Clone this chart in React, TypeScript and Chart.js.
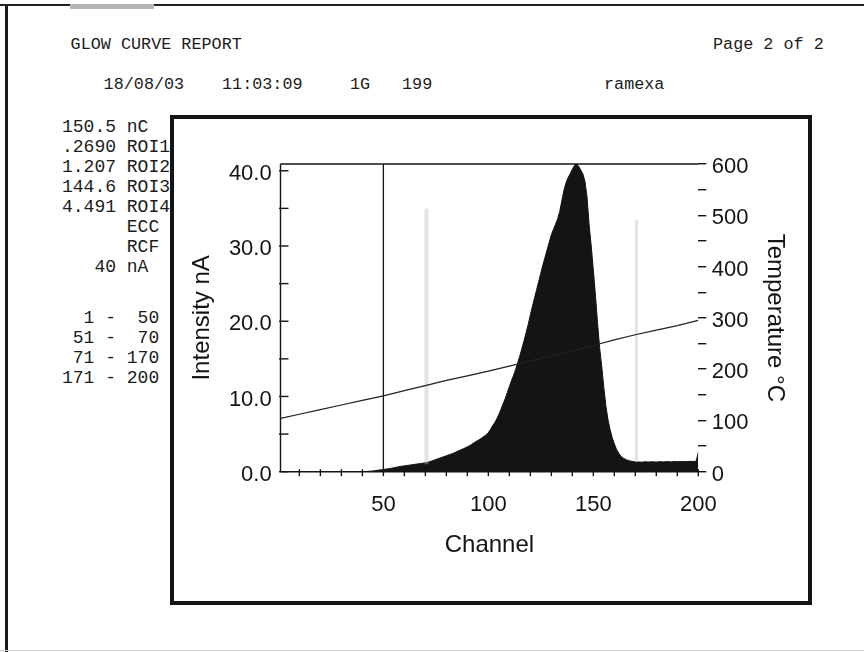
import React, { useEffect, useRef } from 'react';
import { Chart, registerables } from 'chart.js';

Chart.register(...registerables);

// ---------- data ----------
const channels: number[] = Array.from({ length: 200 }, (_, i) => i + 1);

const intensity: number[] = [
  // 1-40
  0, 0, 0, 0, 0, 0, 0, 0, 0, 0,
  0, 0, 0, 0, 0, 0, 0, 0, 0, 0,
  0, 0, 0, 0, 0, 0, 0, 0, 0, 0,
  0, 0, 0, 0, 0, 0, 0, 0, 0, 0,
  // 41-50
  0.02, 0.03, 0.05, 0.08, 0.1, 0.14, 0.18, 0.22, 0.26, 0.3,
  // 51-60
  0.34, 0.38, 0.42, 0.47, 0.52, 0.58, 0.64, 0.7, 0.74, 0.78,
  // 61-70
  0.82, 0.86, 0.9, 0.94, 0.98, 1.02, 1.06, 1.1, 1.14, 1.19,
  // 71-80
  1.25, 1.33, 1.42, 1.52, 1.62, 1.72, 1.82, 1.92, 2.02, 2.12,
  // 81-90
  2.22, 2.32, 2.42, 2.54, 2.68, 2.8, 2.92, 3.04, 3.17, 3.31,
  // 91-100
  3.46, 3.63, 3.82, 4.0, 4.16, 4.32, 4.5, 4.7, 4.92, 5.2,
  // 101-110
  5.6, 6.1, 6.5, 7.0, 7.6, 8.3, 9.0, 9.7, 10.5, 11.3,
  // 111-120
  12.1, 12.8, 13.6, 14.5, 15.4, 16.4, 17.4, 18.5, 19.6, 20.8,
  // 121-130
  22.0, 23.1, 24.2, 25.3, 26.4, 27.5, 28.5, 29.5, 30.5, 31.5,
  // 131-140
  32.2, 32.9, 33.6, 34.6, 36.0, 37.4, 38.4, 39.1, 39.6, 40.2,
  // 141-150
  40.7, 40.9, 40.6, 40.1, 39.6, 38.6, 36.5, 32.8, 30.0, 26.8,
  // 151-160
  23.5, 19.8, 16.5, 14.0, 11.2, 8.7, 6.9, 5.6, 4.5, 3.7,
  // 161-170
  3.0, 2.5, 2.1, 1.85, 1.7, 1.55, 1.45, 1.4, 1.35, 1.3,
  // 171-180
  1.28, 1.3, 1.27, 1.3, 1.32, 1.29, 1.3, 1.33, 1.3, 1.28,
  // 181-190
  1.31, 1.34, 1.3, 1.32, 1.35, 1.33, 1.3, 1.34, 1.36, 1.33,
  // 191-200
  1.35, 1.37, 1.34, 1.36, 1.35, 1.38, 1.36, 1.37, 1.4, 2.6,
];

const tempChannels: number[] = [1, 10, 20, 30, 40, 50, 60, 70, 80, 90, 100, 110, 120, 130, 140, 150, 160, 170, 180, 190, 200];
const temperature: number[] = [104, 112, 121, 130, 139, 148, 158, 168, 178, 187, 196, 206, 216, 226, 235, 246, 257, 267, 276, 285, 295];

const roiChannels: number[] = [50, 70.5, 170.5];
const roiLow: number[] = [0, 1.0, 1.3];
const roiHigh: number[] = [40.9, 35.0, 33.4];

const xTickValues: number[] = [10, 20, 30, 40, 50, 60, 70, 80, 90, 100, 110, 120, 130, 140, 150, 160, 170, 180, 190, 200];
const xLabelValues: number[] = [50, 100, 150, 200];
const yTickValues: number[] = [0, 5, 10, 15, 20, 25, 30, 35, 40];
const yLabelValues: number[] = [0, 10, 20, 30, 40];
const y1TickValues: number[] = [0, 50, 100, 150, 200, 250, 300, 350, 400, 450, 500, 550, 600];
const y1LabelValues: number[] = [0, 100, 200, 300, 400, 500, 600];

const headerTitle = 'GLOW CURVE REPORT';
const headerPage = 'Page 2 of 2';
const headerFields: string[] = ['18/08/03', '11:03:09', '1G', '199', 'ramexa'];
const sideLines: string[] = [
  '150.5 nC',
  '.2690 ROI1',
  '1.207 ROI2',
  '144.6 ROI3',
  '4.491 ROI4',
  '      ECC',
  '      RCF',
  '   40 nA',
  '  1 -  50',
  ' 51 -  70',
  ' 71 - 170',
  '171 - 200',
];

// ---------- layout (pixels) ----------
const W = 864;
const H = 652;
const PLOT_LEFT = 280.5;
const PLOT_RIGHT = 698.3;
const PLOT_TOP = 164;
const PLOT_BOTTOM = 471.7;
const headerFieldX = [103.6, 222, 350, 402, 604];
const sideLineY = [127, 147, 167, 187, 207, 227, 247, 267, 318, 338, 358, 378];

const INK = '#141414';
const SANS = '"Liberation Sans", Arial, sans-serif';
const MONO = '"Liberation Mono", "Courier New", monospace';

const axesPlugin = {
  id: 'glowAxes',
  afterDraw(chart: any) {
    const { ctx, chartArea: a, scales } = chart;
    ctx.save();
    ctx.strokeStyle = INK;
    ctx.lineWidth = 1.4;
    const seg = (x1: number, y1: number, x2: number, y2: number) => {
      ctx.beginPath();
      ctx.moveTo(x1, y1);
      ctx.lineTo(x2, y2);
      ctx.stroke();
    };
    seg(a.left, a.top, a.left, a.bottom);
    seg(a.left, a.top, a.right, a.top);
    seg(a.left, a.bottom, a.right, a.bottom);
    scales.x.ticks.forEach((t: any) => {
      const px = scales.x.getPixelForValue(t.value);
      seg(px, a.bottom - 2.5, px, a.bottom + 4.5);
    });
    scales.y.ticks.forEach((t: any) => {
      const py = scales.y.getPixelForValue(t.value);
      seg(a.left - 1.5, py, a.left + 8, py);
    });
    ctx.restore();
  },
};

function GlowChart() {
  const ref = useRef<HTMLCanvasElement | null>(null);
  useEffect(() => {
    if (!ref.current) return;
    const tickFont = { family: SANS, size: 22 };
    const titleFont = { family: SANS, size: 24 };
    const roiColors = [INK, 'rgba(185,185,185,0.4)', 'rgba(185,185,185,0.4)'];
    const roiWidths = [1.3, 4, 3];
    const roiSets = roiChannels.map((c, i) => ({
      type: 'line' as const,
      data: [
        { x: c, y: roiLow[i] },
        { x: c, y: roiHigh[i] },
      ],
      yAxisID: 'y',
      borderColor: roiColors[i],
      borderWidth: roiWidths[i],
      pointRadius: 0,
      fill: false,
      order: 2,
    }));
    const chart = new Chart(ref.current, {
      type: 'line',
      data: {
        datasets: [
          {
            data: tempChannels.map((c, i) => ({ x: c, y: temperature[i] })),
            yAxisID: 'y1',
            borderColor: '#222',
            borderWidth: 1.2,
            pointRadius: 0,
            fill: false,
            tension: 0,
            order: 1,
          },
          ...roiSets,
          {
            data: channels.map((c, i) => ({ x: c, y: intensity[i] })),
            yAxisID: 'y',
            borderColor: INK,
            backgroundColor: INK,
            borderWidth: 1,
            pointRadius: 0,
            fill: 'origin',
            tension: 0,
            order: 3,
          },
        ] as any,
      },
      options: {
        animation: false,
        responsive: false,
        maintainAspectRatio: false,
        devicePixelRatio: 1,
        events: [],
        layout: { padding: { top: PLOT_TOP, left: 0, right: 0, bottom: 0 } },
        plugins: { legend: { display: false }, tooltip: { enabled: false } },
        scales: {
          x: {
            type: 'linear',
            min: 1,
            max: 200,
            afterFit: (s: any) => {
              s.height = H - PLOT_BOTTOM;
            },
            afterBuildTicks: (s: any) => {
              s.ticks = xTickValues.map((v) => ({ value: v }));
            },
            grid: { display: false, drawTicks: false, tickLength: 0 },
            border: { display: false },
            ticks: {
              autoSkip: false,
              maxRotation: 0,
              padding: 20,
              color: INK,
              font: tickFont,
              callback: (v: any) => (xLabelValues.includes(Number(v)) ? String(v) : ''),
            },
            title: {
              display: true,
              text: 'Channel',
              color: INK,
              font: titleFont,
              padding: { top: 0, bottom: 92.6 },
            },
          },
          y: {
            type: 'linear',
            position: 'left',
            min: 0,
            max: 40.9,
            afterFit: (s: any) => {
              s.width = PLOT_LEFT;
            },
            afterBuildTicks: (s: any) => {
              s.ticks = yTickValues.map((v) => ({ value: v }));
            },
            grid: { display: false, drawTicks: false, tickLength: 0 },
            border: { display: false },
            ticks: {
              autoSkip: false,
              padding: 8.8,
              labelOffset: 3,
              color: INK,
              font: tickFont,
              callback: (v: any) => (yLabelValues.includes(Number(v)) ? Number(v).toFixed(1) : ''),
            },
            title: {
              display: true,
              text: 'Intensity nA',
              color: INK,
              font: titleFont,
              padding: { top: 187.6, bottom: 0 },
            },
          },
          y1: {
            type: 'linear',
            position: 'right',
            min: 0,
            max: 600,
            afterFit: (s: any) => {
              s.width = W - PLOT_RIGHT;
            },
            afterBuildTicks: (s: any) => {
              s.ticks = y1TickValues.map((v) => ({ value: v }));
            },
            grid: { drawOnChartArea: false, drawTicks: true, tickLength: 8, color: INK, lineWidth: 1.4 },
            border: { display: false },
            ticks: {
              autoSkip: false,
              padding: 5.4,
              labelOffset: 3,
              color: INK,
              font: tickFont,
              callback: (v: any) => (y1LabelValues.includes(Number(v)) ? String(v) : ''),
            },
            title: {
              display: true,
              text: 'Temperature °C',
              color: INK,
              font: titleFont,
              padding: { top: 75, bottom: 0 },
            },
          },
        },
      } as any,
      plugins: [axesPlugin],
    });
    return () => chart.destroy();
  }, []);
  return (
    <canvas
      ref={ref}
      width={W}
      height={H}
      style={{ position: 'absolute', left: 0, top: 0, width: W, height: H }}
    />
  );
}

const monoText = (text: string, x: number, cy: number, key: string, size = 16.8) => (
  <span
    key={key}
    style={{
      position: 'absolute',
      left: x,
      top: cy - 9,
      fontFamily: MONO,
      fontSize: size,
      lineHeight: '18px',
      whiteSpace: 'pre',
      color: '#1c1c1c',
    }}
  >
    {text}
  </span>
);

export default function App() {
  return (
    <div
      style={{
        position: 'absolute',
        left: 0,
        top: 0,
        width: W,
        height: H,
        overflow: 'hidden',
        background: '#ffffff',
      }}
    >
      {/* scanned page edges */}
      <div style={{ position: 'absolute', left: 0, top: 4, width: W, height: 2, background: '#222' }} />
      <div style={{ position: 'absolute', left: 70, top: 4, width: 84, height: 5, background: '#b5b5b5' }} />
      <div style={{ position: 'absolute', left: 5, top: 5, width: 3, height: H - 5, background: '#1a1a1a' }} />
      <div style={{ position: 'absolute', left: 0, top: 650, width: W, height: 1, background: '#cfcfcf' }} />

      {monoText(headerTitle, 70.6, 45, 'title')}
      {monoText(headerPage, 713, 45, 'page')}
      {headerFields.map((t, i) => monoText(t, headerFieldX[i], 85, 'h' + i))}
      {sideLines.map((t, i) => monoText(t, 62, sideLineY[i], 's' + i, 18))}

      {/* chart frame */}
      <div
        style={{
          position: 'absolute',
          left: 170,
          top: 114.5,
          width: 642,
          height: 490,
          boxSizing: 'border-box',
          border: '4px solid #141414',
        }}
      />
      <GlowChart />
    </div>
  );
}
